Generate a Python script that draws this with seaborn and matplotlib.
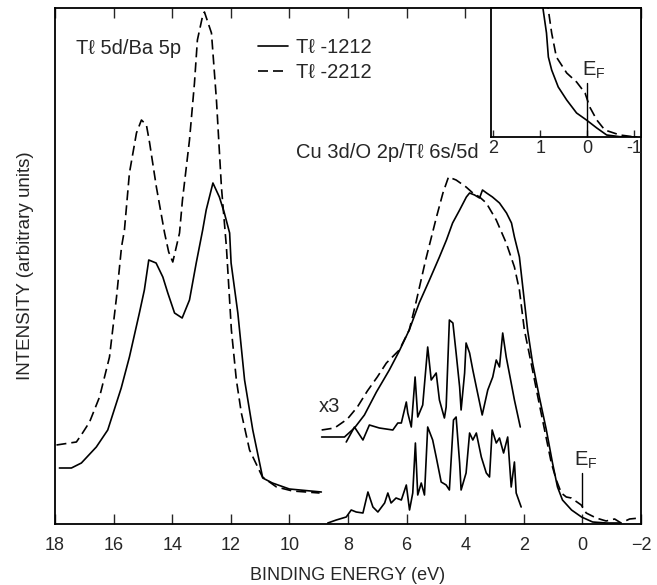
import numpy as np
import pandas as pd
import matplotlib
matplotlib.use("Agg")
import matplotlib.pyplot as plt
from matplotlib.lines import Line2D
import seaborn as sns

# ---------------- data (binding energy in eV, intensity in arbitrary units) -------------
core_e_1212 = [17.85, 17.44, 17.10, 16.59, 16.20, 15.74, 15.46, 15.12, 14.95, 14.80, 14.55,
               14.32, 14.15, 13.92, 13.66, 13.41, 13.18, 12.96, 12.84, 12.61, 12.39, 12.22,
               12.04, 11.99, 11.76, 11.53, 11.25, 10.91, 10.58, 10.00, 8.91]
core_i_1212 = [56, 56, 61, 77, 94, 136, 167, 211, 234, 264, 261,
               247, 231, 211, 206, 224, 261, 294, 314, 341, 327, 311,
               291, 261, 211, 144, 94, 46, 41, 35, 32]

core_e_2212 = [17.95, 17.27, 17.06, 16.82, 16.48, 16.14, 15.90, 15.73, 15.63, 15.46, 15.22,
               15.05, 14.88, 14.77, 14.54, 14.26, 14.12, 13.98, 13.75, 13.65, 13.41, 13.24,
               13.14, 12.97, 12.90, 12.66, 12.49, 12.32, 12.15, 11.98, 11.81, 11.64, 11.36,
               10.92, 10.44, 9.89, 8.97]
core_i_2212 = [79, 82, 91, 102, 127, 167, 227, 277, 294, 351, 391,
               404, 399, 381, 337, 291, 272, 262, 291, 324, 384, 441,
               484, 507, 512, 491, 424, 337, 277, 194, 144, 111, 74,
               47, 37, 33, 31]

vb_e_1212 = [8.90, 8.46, 8.12, 7.78, 7.44, 7.03, 6.59, 6.25, 5.91, 5.57, 5.22, 4.88, 4.64,
             4.43, 4.19, 3.96, 3.85, 3.68, 3.51, 3.41, 3.27, 3.07, 2.83, 2.59, 2.42, 2.32,
             2.15, 1.87, 1.70, 1.47, 1.23, 1.02, 0.85, 0.68, 0.37, 0.03, -0.35, -0.82, -1.27]
vb_i_1212 = [87, 87, 87, 96, 109, 132, 154, 173, 194, 221, 244, 267, 284,
             301, 314, 327, 331, 329, 326, 334, 331, 327, 321, 311, 301, 287,
             267, 194, 161, 127, 94, 61, 37, 24, 14, 7, 2, 1, 1]

vb_e_2212 = [8.90, 8.46, 8.02, 7.68, 7.34, 7.00, 6.69, 6.25, 5.91, 5.70, 5.35, 4.98, 4.76,
             4.57, 4.31, 3.97, 3.74, 3.51, 3.28, 2.94, 2.60, 2.32, 2.15, 1.98, 1.75, 1.52,
             1.29, 1.06, 0.89, 0.72, 0.55, 0.38, 0.04, -0.13, -0.47, -0.81, -1.10, -1.32,
             -1.61, -1.95]
vb_i_2212 = [94, 96, 105, 117, 133, 147, 161, 174, 194, 219, 264, 307, 331,
             347, 344, 337, 331, 327, 321, 304, 281, 257, 234, 194, 161, 127,
             94, 61, 44, 31, 27, 26, 19, 11, 6, 3, 5, 1,
             5, 6]

diff_x3_e = [8.06, 7.78, 7.49, 7.27, 6.93, 6.47, 6.30, 6.18, 6.01, 5.96, 5.84, 5.71, 5.62,
             5.45, 5.28, 5.16, 4.99, 4.88, 4.71, 4.65, 4.54, 4.42, 4.31, 4.19, 4.14, 4.02,
             3.97, 3.85, 3.74, 3.62, 3.42, 3.23, 3.06, 2.94, 2.83, 2.72, 2.60, 2.43, 2.32,
             2.12]
diff_x3_i = [82, 97, 84, 99, 96, 94, 101, 101, 122, 111, 97, 147, 107,
             119, 177, 144, 151, 124, 106, 117, 204, 201, 171, 137, 114, 151,
             181, 171, 154, 137, 109, 134, 147, 164, 157, 191, 167, 141, 124,
             97]

diff_e = [8.69, 8.40, 8.06, 7.89, 7.72, 7.49, 7.32, 7.15, 6.98, 6.75, 6.64, 6.53, 6.36,
          6.18, 6.01, 5.90, 5.79, 5.70, 5.62, 5.50, 5.39, 5.28, 5.11, 4.99, 4.82, 4.65,
          4.54, 4.40, 4.31, 4.19, 4.14, 3.97, 3.85, 3.74, 3.62, 3.45, 3.28, 3.17, 3.08,
          2.94, 2.83, 2.69, 2.55, 2.43, 2.32, 2.26, 2.09]
diff_i = [1, 4, 7, 14, 12, 11, 32, 17, 12, 21, 31, 21, 26,
          24, 39, 14, 31, 81, 29, 41, 29, 97, 84, 67, 42, 39,
          34, 104, 107, 61, 34, 51, 91, 84, 91, 67, 51, 47, 94,
          81, 86, 71, 87, 37, 62, 31, 17]

inset_e_1212 = [0.98, 0.94, 0.87, 0.83, 0.76, 0.62, 0.44, 0.23, 0.02, -0.20, -0.41, -0.69, -1.05]
inset_i_1212 = [142, 127, 104, 80, 67, 50, 37, 24, 17, 9, 2, 0.3, 0]
inset_e_2212 = [0.86, 0.83, 0.76, 0.66, 0.44, 0.23, 0.05, -0.05, -0.20, -0.37, -0.69, -0.97]
inset_i_2212 = [142, 127, 104, 80, 64, 55, 44, 30, 17, 7, 2, 0.3]

x_ticks = [18, 16, 14, 12, 10, 8, 6, 4, 2, 0, -2]
x_tick_labels = ["18", "16", "14", "12", "10", "8", "6", "4", "2", "0", "\u22122"]
inset_ticks = [2, 1, 0, -1]
inset_tick_labels = ["2", "1", "0", "-1"]
series_labels = ["T\u2113 -1212", "T\u2113 -2212"]

# ---------------- styling -------------------------------------------------------------
sns.set_style("ticks")
plt.rcParams["font.family"] = ["Liberation Sans", "DejaVu Sans"]
plt.rcParams["axes.linewidth"] = 1.3
FS = 13
FS_TXT = 14.5
LW = 1.2
DASH = (0, (6, 3))

fig = plt.figure(figsize=(6.57, 5.85), dpi=100)
ax = fig.add_axes([55 / 657, 1 - 524 / 585, 586 / 657, 516 / 585])


def draw(a, e, i, dashed=False):
    df = pd.DataFrame({"E": e, "I": i})
    sns.lineplot(data=df, x="E", y="I", ax=a, sort=False, estimator=None,
                 color="black", lw=LW, linestyle=DASH if dashed else "-")


draw(ax, core_e_1212, core_i_1212)
draw(ax, core_e_2212, core_i_2212, dashed=True)
draw(ax, vb_e_1212, vb_i_1212)
draw(ax, vb_e_2212, vb_i_2212, dashed=True)
draw(ax, diff_x3_e, diff_x3_i)
draw(ax, diff_e, diff_i)

ax.set_xlim(18.0, -2.0)
ax.set_ylim(0, 516)
ax.set_xticks(x_ticks)
ax.set_xticklabels(x_tick_labels, fontsize=FS)
ax.set_yticks([])
ax.tick_params(axis="x", direction="in", length=7, width=1.0, top=True, pad=9)
ax.set_xlabel("BINDING ENERGY (eV)", fontsize=FS, labelpad=10)
ax.set_ylabel("INTENSITY (arbitrary units)", fontsize=13.5, labelpad=15)
for s in ax.spines.values():
    s.set_visible(True)
    s.set_color("black")

# Fermi level marker
ax.plot([0, 0], [17, 51], color="black", lw=1.0)
ax.text(0.28, 53, r"E$_\mathregular{F}$", fontsize=FS_TXT, ha="left", va="bottom")

ax.text(15.5, 476, "T\u2113 5d/Ba 5p", fontsize=FS_TXT, ha="center", va="center")
ax.text(6.65, 372, "Cu 3d/O 2p/T\u2113 6s/5d", fontsize=FS_TXT, ha="center", va="center")
ax.text(8.63, 117, "x3", fontsize=FS_TXT, ha="center", va="center")

handles = [Line2D([], [], color="black", lw=LW),
           Line2D([], [], color="black", lw=LW, linestyle=DASH)]
ax.legend(handles, series_labels, loc="upper left", bbox_to_anchor=(0.347, 0.942),
          frameon=False, fontsize=FS_TXT, handlelength=1.45, handletextpad=0.4,
          labelspacing=0.3, borderpad=0, borderaxespad=0)

# ---------------- inset -----------------------------------------------------------------
ins = fig.add_axes([491 / 657, 1 - 137 / 585, 150 / 657, 129 / 585])
draw(ins, inset_e_1212, inset_i_1212)
draw(ins, inset_e_2212, inset_i_2212, dashed=True)
ins.plot([0, 0], [0, 54], color="black", lw=1.0)
ins.text(0.12, 56, r"E$_\mathregular{F}$", fontsize=FS_TXT, ha="left", va="bottom")
ins.set_xlim(2.05, -1.14)
ins.set_ylim(0, 129)
ins.set_xticks(inset_ticks)
ins.set_xticklabels(inset_tick_labels, fontsize=FS)
ins.set_yticks([])
ins.tick_params(axis="x", direction="in", length=5, width=1.0, pad=2)
ins.set_xlabel("")
ins.set_ylabel("")
for s in ins.spines.values():
    s.set_visible(True)
    s.set_color("black")

fig.savefig("out.png", dpi=100)
